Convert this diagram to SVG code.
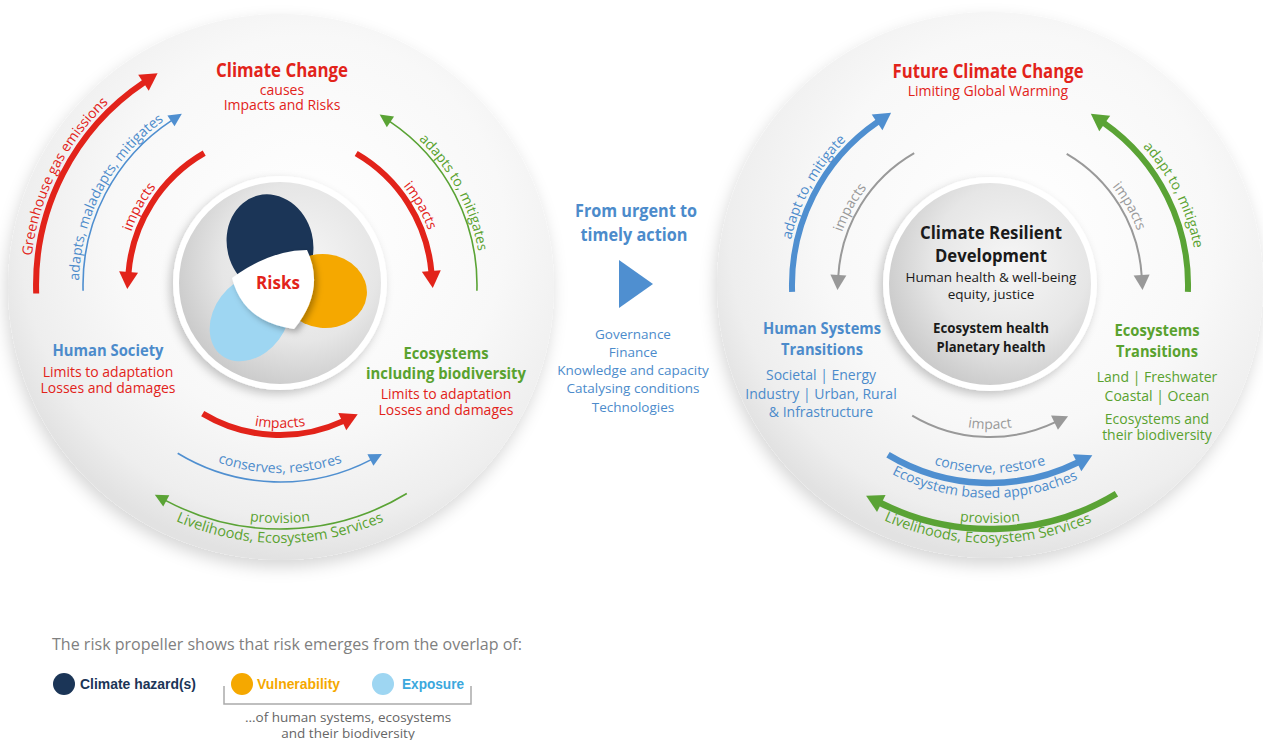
<svg xmlns="http://www.w3.org/2000/svg" width="1263" height="740" viewBox="0 0 1263 740">
<style>
.t{font-family:"Open Sans","Noto Sans",sans-serif}
.b{font-weight:700}
.s14{font-size:14px}
.s135{font-size:13.5px}
.red{fill:#e2231a}
.blue{fill:#4c8bcb}
.green{fill:#59a22f}
.gray{fill:#9a9a9a}
.blk{fill:#1a1a1a}
.arc{fill:none}
.lg{font-family:"Liberation Sans",Arial,sans-serif;font-weight:700;font-size:14.5px}
</style>
<defs>
<radialGradient id="gBig" cx="55%" cy="40%" r="60%">
<stop offset="0" stop-color="#ffffff"/>
<stop offset="0.6" stop-color="#f8f8f8"/>
<stop offset="0.88" stop-color="#eeeeee"/>
<stop offset="1" stop-color="#e2e2e2"/>
</radialGradient>
<radialGradient id="gInner" cx="60%" cy="40%" r="65%">
<stop offset="0" stop-color="#f6f6f6"/>
<stop offset="0.6" stop-color="#e6e6e6"/>
<stop offset="1" stop-color="#c9c9c9"/>
</radialGradient>
<filter id="shBig" x="-15%" y="-15%" width="130%" height="135%">
<feDropShadow dx="-2" dy="7" stdDeviation="8" flood-color="#000" flood-opacity="0.16"/>
</filter>
<filter id="shSmall" x="-20%" y="-20%" width="140%" height="140%">
<feDropShadow dx="-3" dy="4" stdDeviation="5" flood-color="#000" flood-opacity="0.22"/>
</filter>
<filter id="shWhite" x="-30%" y="-30%" width="160%" height="160%">
<feDropShadow dx="3" dy="3" stdDeviation="3" flood-color="#000" flood-opacity="0.3"/>
</filter>
<marker id="mRed" viewBox="-1 -10 18 20" markerWidth="18" markerHeight="20" refX="0" refY="0" orient="auto" markerUnits="userSpaceOnUse" overflow="visible"><path d="M-1,-9.5 L16,0 L-1,9.5 Z" fill="#e2231a"/></marker>
<marker id="mBlueL" viewBox="-1 -10 18 20" markerWidth="18" markerHeight="20" refX="0" refY="0" orient="auto" markerUnits="userSpaceOnUse" overflow="visible"><path d="M-1,-9.5 L16,0 L-1,9.5 Z" fill="#4f8fd0"/></marker>
<marker id="mGreenL" viewBox="-1 -10 18 20" markerWidth="18" markerHeight="20" refX="0" refY="0" orient="auto" markerUnits="userSpaceOnUse" overflow="visible"><path d="M-1,-9.5 L16,0 L-1,9.5 Z" fill="#5aa335"/></marker>
<marker id="mBlueS" viewBox="-1 -7 14 14" markerWidth="14" markerHeight="14" refX="0" refY="0" orient="auto" markerUnits="userSpaceOnUse" overflow="visible"><path d="M-1,-6.5 L12,0 L-1,6.5 Z" fill="#4f8fd0"/></marker>
<marker id="mGreenS" viewBox="-1 -7 14 14" markerWidth="14" markerHeight="14" refX="0" refY="0" orient="auto" markerUnits="userSpaceOnUse" overflow="visible"><path d="M-1,-6.5 L12,0 L-1,6.5 Z" fill="#5aa335"/></marker>
<marker id="mGray" viewBox="-1 -9 16 18" markerWidth="16" markerHeight="18" refX="0" refY="0" orient="auto" markerUnits="userSpaceOnUse" overflow="visible"><path d="M-1,-8 L14,0 L-1,8 Z" fill="#999999"/></marker>
<!-- text paths left -->
<path id="pL1" d="M50.4,383.9 A250,250 0 0 1 222.5,41.7"/>
<path id="pL2" d="M93.6,360.3 A201,201 0 0 1 238.2,88.4"/>
<path id="pL3" d="M124.9,315.1 A158,158 0 0 1 223.4,137.5"/>
<path id="pL4" d="M335.3,137 A158,158 0 0 1 435.4,313.8"/>
<path id="pL5" d="M321.8,88.4 A201,201 0 0 1 466.4,360.3"/>
<path id="pL6" d="M170.5,376.9 A143,143 0 0 0 389.5,376.9"/>
<path id="pL7" d="M136,405.8 A188,188 0 0 0 424,405.8"/>
<path id="pL8" d="M97.7,438 A238,238 0 0 0 462.3,438"/>
<path id="pL9" d="M82.4,450.8 A258,258 0 0 0 477.6,450.8"/>
<!-- text paths right -->
<path id="pR1" d="M799.5,358.1 A204,204 0 0 1 951.1,84.8"/>
<path id="pR2" d="M835.9,315 A157,157 0 0 1 933.7,138.4"/>
<path id="pR3" d="M1045,137.9 A157,157 0 0 1 1144.4,313.6"/>
<path id="pR4" d="M1038.7,86.9 A204,204 0 0 1 1180.2,367.8"/>
<path id="pR5" d="M879.7,377.6 A144,144 0 0 0 1100.3,377.6"/>
<path id="pR6" d="M846,405.8 A188,188 0 0 0 1134,405.8"/>
<path id="pR7" d="M823.3,417.6 A213,213 0 0 0 1149.5,426.1"/>
<path id="pR8" d="M807.7,438 A238,238 0 0 0 1172.3,438"/>
<path id="pR9" d="M790.9,449.1 A258,258 0 0 0 1186.2,452.5"/>
</defs>
<rect width="1263" height="740" fill="#ffffff"/>

<!-- Left big circle -->
<g id="left-circle">
<circle cx="281" cy="287" r="273" fill="url(#gBig)" filter="url(#shBig)"/>
</g>
<!-- Right big circle -->
<g id="right-circle">
<circle cx="990" cy="285" r="273" fill="url(#gBig)" filter="url(#shBig)"/>
</g>

<!-- Risks inner circle -->
<g id="risks">
<circle cx="280" cy="283" r="107" fill="#ffffff" filter="url(#shSmall)"/>
<circle cx="280" cy="283" r="101" fill="url(#gInner)"/>
<ellipse cx="270" cy="244" rx="43" ry="50" transform="rotate(-14 270 244)" fill="#1b3557"/>
<ellipse cx="324" cy="291" rx="43" ry="37" transform="rotate(6 324 291)" fill="#f5a800"/>
<ellipse cx="250" cy="318" rx="47" ry="36" transform="rotate(-53 250 318)" fill="#9ed6f2"/>
<path d="M232,278 Q270,250 307,250 Q326,290 294,329 Q243,322 232,278 Z" fill="#ffffff" filter="url(#shWhite)"/>
<text x="278" y="289" class="t b red" font-size="17" text-anchor="middle">Risks</text>
</g>

<g id="climate-change">
<text x="282" y="77" class="t b red" font-size="19" text-anchor="middle" textLength="132" lengthAdjust="spacingAndGlyphs">Climate Change</text>
<text x="282" y="95" class="t s14 red" text-anchor="middle">causes</text>
<text x="282" y="110" class="t s14 red" text-anchor="middle">Impacts and Risks</text>
</g>

<g id="human-society">
<text x="108" y="356" class="t b blue" font-size="16.5" text-anchor="middle" textLength="111" lengthAdjust="spacingAndGlyphs">Human Society</text>
<text x="108" y="377" class="t s14 red" text-anchor="middle">Limits to adaptation</text>
<text x="108" y="393" class="t s14 red" text-anchor="middle">Losses and damages</text>
</g>

<g id="ecosystems">
<text x="446" y="359" class="t b green" font-size="16.5" text-anchor="middle" textLength="85" lengthAdjust="spacingAndGlyphs">Ecosystems</text>
<text x="446" y="379" class="t b green" font-size="16.5" text-anchor="middle" textLength="160" lengthAdjust="spacingAndGlyphs">including biodiversity</text>
<text x="446" y="399" class="t s14 red" text-anchor="middle">Limits to adaptation</text>
<text x="446" y="415" class="t s14 red" text-anchor="middle">Losses and damages</text>
</g>

<g id="center-action">
<text x="636" y="217" class="t b blue" font-size="17.5" text-anchor="middle" textLength="122" lengthAdjust="spacingAndGlyphs">From urgent to</text>
<text x="634" y="241" class="t b blue" font-size="17.5" text-anchor="middle" textLength="107" lengthAdjust="spacingAndGlyphs">timely action</text>
<polygon points="619,260 619,308 653,284" fill="#4f8fd0"/>
<text x="633" y="339" class="t s135 blue" text-anchor="middle">Governance</text>
<text x="633" y="357" class="t s135 blue" text-anchor="middle">Finance</text>
<text x="633" y="375" class="t s135 blue" text-anchor="middle">Knowledge and capacity</text>
<text x="633" y="393" class="t s135 blue" text-anchor="middle">Catalysing conditions</text>
<text x="633" y="412" class="t s135 blue" text-anchor="middle">Technologies</text>
</g>

<g id="future-climate-change">
<text x="988" y="78" class="t b red" font-size="19" text-anchor="middle" textLength="191" lengthAdjust="spacingAndGlyphs">Future Climate Change</text>
<text x="988" y="96" class="t s14 red" text-anchor="middle">Limiting Global Warming</text>
</g>

<g id="climate-resilient-development">
<circle cx="990" cy="284" r="107" fill="#ffffff" filter="url(#shSmall)"/>
<circle cx="990" cy="284" r="101" fill="url(#gInner)"/>
<text x="991" y="239" class="t b blk" font-size="17.5" text-anchor="middle" textLength="142" lengthAdjust="spacingAndGlyphs">Climate Resilient</text>
<text x="991" y="262" class="t b blk" font-size="17.5" text-anchor="middle" textLength="112" lengthAdjust="spacingAndGlyphs">Development</text>
<text x="991" y="282" class="t s135 blk" text-anchor="middle">Human health &amp; well-being</text>
<text x="991" y="299" class="t s135 blk" text-anchor="middle">equity, justice</text>
<text x="991" y="333" class="t b blk" font-size="14" text-anchor="middle" textLength="116" lengthAdjust="spacingAndGlyphs">Ecosystem health</text>
<text x="991" y="352" class="t b blk" font-size="14" text-anchor="middle" textLength="109" lengthAdjust="spacingAndGlyphs">Planetary health</text>
</g>

<g id="human-systems-transitions">
<text x="822" y="334" class="t b blue" font-size="16.5" text-anchor="middle" textLength="118" lengthAdjust="spacingAndGlyphs">Human Systems</text>
<text x="822" y="355" class="t b blue" font-size="16.5" text-anchor="middle" textLength="82" lengthAdjust="spacingAndGlyphs">Transitions</text>
<text x="821" y="380" class="t s14 blue" text-anchor="middle">Societal | Energy</text>
<text x="821" y="399" class="t s14 blue" text-anchor="middle">Industry | Urban, Rural</text>
<text x="821" y="417" class="t s14 blue" text-anchor="middle">&amp; Infrastructure</text>
</g>

<g id="ecosystems-transitions">
<text x="1157" y="336" class="t b green" font-size="16.5" text-anchor="middle" textLength="85" lengthAdjust="spacingAndGlyphs">Ecosystems</text>
<text x="1157" y="357" class="t b green" font-size="16.5" text-anchor="middle" textLength="82" lengthAdjust="spacingAndGlyphs">Transitions</text>
<text x="1157" y="382" class="t s14 green" text-anchor="middle">Land | Freshwater</text>
<text x="1157" y="401" class="t s14 green" text-anchor="middle">Coastal | Ocean</text>
<text x="1157" y="424" class="t s14 green" text-anchor="middle">Ecosystems and</text>
<text x="1157" y="440" class="t s14 green" text-anchor="middle">their biodiversity</text>
</g>

<g id="connectors">
<!-- left circle arcs -->
<path class="arc" d="M36.2,293.5 A244,244 0 0 1 144.3,82.2" stroke="#e2231a" stroke-width="6" marker-end="url(#mRed)"/>
<path class="arc" d="M83.1,290.8 A197,197 0 0 1 171.8,120.3" stroke="#4f8fd0" stroke-width="1.6" marker-end="url(#mBlueS)"/>
<path class="arc" d="M204.2,153.2 A152,152 0 0 0 128.5,273.1" stroke="#e2231a" stroke-width="6" marker-end="url(#mRed)"/>
<path class="arc" d="M356.2,153.5 A152,152 0 0 1 431.4,272" stroke="#e2231a" stroke-width="6" marker-end="url(#mRed)"/>
<path class="arc" d="M476.9,290.8 A197,197 0 0 0 389.6,121.3" stroke="#5aa335" stroke-width="1.6" marker-end="url(#mGreenS)"/>
<path class="arc" d="M202.7,413.6 A150,150 0 0 0 343.2,421.1" stroke="#e2231a" stroke-width="6" marker-end="url(#mRed)"/>
<path class="arc" d="M177.7,453.3 A197,197 0 0 0 371.3,459.6" stroke="#4f8fd0" stroke-width="1.6" marker-end="url(#mBlueS)"/>
<path class="arc" d="M406.8,493.5 A244,244 0 0 1 165.4,500.4" stroke="#5aa335" stroke-width="1.6" marker-end="url(#mGreenS)"/>
<text class="t s14 red" text-anchor="middle"><textPath href="#pL1" startOffset="50%">Greenhouse gas emissions</textPath></text>
<text class="t s14 blue" text-anchor="middle"><textPath href="#pL2" startOffset="50%">adapts, maladapts, mitigates</textPath></text>
<text class="t s14 red" text-anchor="middle"><textPath href="#pL3" startOffset="50%">impacts</textPath></text>
<text class="t s14 red" text-anchor="middle"><textPath href="#pL4" startOffset="50%">impacts</textPath></text>
<text class="t s14 green" text-anchor="middle"><textPath href="#pL5" startOffset="50%">adapts to, mitigates</textPath></text>
<text class="t s14 red" text-anchor="middle"><textPath href="#pL6" startOffset="50%">impacts</textPath></text>
<text class="t s14 blue" text-anchor="middle"><textPath href="#pL7" startOffset="50%">conserves, restores</textPath></text>
<text class="t s14 green" text-anchor="middle"><textPath href="#pL8" startOffset="50%">provision</textPath></text>
<text class="t green" font-size="14.5" text-anchor="middle"><textPath href="#pL9" startOffset="50%">Livelihoods, Ecosystem Services</textPath></text>
<!-- right circle arcs -->
<path class="arc" d="M792.1,291.9 A198,198 0 0 1 877.9,121.8" stroke="#4f8fd0" stroke-width="6" marker-end="url(#mBlueL)"/>
<path class="arc" d="M914.2,153.2 A152,152 0 0 0 838.3,276" stroke="#999999" stroke-width="2" marker-end="url(#mGray)"/>
<path class="arc" d="M1066.7,153.8 A152,152 0 0 1 1141.7,276" stroke="#999999" stroke-width="2" marker-end="url(#mGray)"/>
<path class="arc" d="M1187.9,291.9 A198,198 0 0 0 1103.9,123" stroke="#5aa335" stroke-width="6" marker-end="url(#mGreenL)"/>
<path class="arc" d="M912.2,415.6 A152,152 0 0 0 1055.4,422.2" stroke="#999999" stroke-width="2" marker-end="url(#mGray)"/>
<path class="arc" d="M888,454.7 A198,198 0 0 0 1078,462.3" stroke="#4f8fd0" stroke-width="6.5" marker-end="url(#mBlueL)"/>
<path class="arc" d="M1116.4,493.7 A244,244 0 0 1 880.4,503" stroke="#5aa335" stroke-width="6.5" marker-end="url(#mGreenL)"/>
<text class="t s14 blue" text-anchor="middle"><textPath href="#pR1" startOffset="50%">adapt to, mitigate</textPath></text>
<text class="t s14 gray" text-anchor="middle"><textPath href="#pR2" startOffset="50%">impacts</textPath></text>
<text class="t s14 gray" text-anchor="middle"><textPath href="#pR3" startOffset="50%">impacts</textPath></text>
<text class="t s14 green" text-anchor="middle"><textPath href="#pR4" startOffset="50%">adapt to, mitigate</textPath></text>
<text class="t s14 gray" text-anchor="middle"><textPath href="#pR5" startOffset="50%">impact</textPath></text>
<text class="t s14 blue" text-anchor="middle"><textPath href="#pR6" startOffset="50%">conserve, restore</textPath></text>
<text class="t s14 blue" text-anchor="middle"><textPath href="#pR7" startOffset="50%">Ecosystem based approaches</textPath></text>
<text class="t s14 green" text-anchor="middle"><textPath href="#pR8" startOffset="50%">provision</textPath></text>
<text class="t green" font-size="14.5" text-anchor="middle"><textPath href="#pR9" startOffset="50%">Livelihoods, Ecosystem Services</textPath></text>
</g>

<g id="legend">
<text x="52" y="650" class="t" font-size="17" fill="#808080" textLength="470" lengthAdjust="spacingAndGlyphs">The risk propeller shows that risk emerges from the overlap of:</text>
<circle cx="64" cy="684" r="11" fill="#1b3557"/>
<text x="80" y="689" class="lg" fill="#1b3557" textLength="116" lengthAdjust="spacingAndGlyphs">Climate hazard(s)</text>
<circle cx="242" cy="684" r="11" fill="#f5a800"/>
<text x="257" y="689" class="lg" fill="#f5a800" textLength="83" lengthAdjust="spacingAndGlyphs">Vulnerability</text>
<circle cx="383" cy="684" r="11" fill="#9ed6f2"/>
<text x="402" y="689" class="lg" fill="#3ba8dd" textLength="62" lengthAdjust="spacingAndGlyphs">Exposure</text>
<path d="M224,686 V704 H471 V686" fill="none" stroke="#aaaaaa" stroke-width="1.5"/>
<text x="348" y="722" class="t s135" fill="#666666" text-anchor="middle">...of human systems, ecosystems</text>
<text x="348" y="738" class="t s135" fill="#666666" text-anchor="middle">and their biodiversity</text>
</g>
</svg>
